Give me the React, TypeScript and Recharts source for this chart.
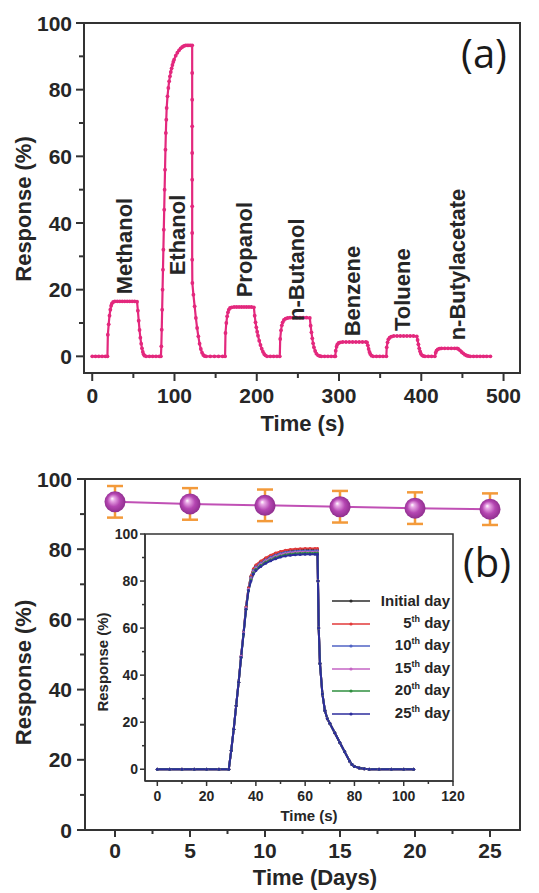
import React from 'react';
import {
  LineChart,
  Line,
  XAxis,
  YAxis,
  ReferenceArea,
  ReferenceDot,
  ComposedChart,
  ErrorBar,
  Legend,
} from 'recharts';

const FONT = '"Liberation Sans", Arial, sans-serif';
const INK = '#262626';
const AXIS = '#333333';
const PINK = '#e3287d';
const ORANGE = '#f39a3a';
const LINEB = '#c050b5';

// ---------------- Panel (a): response vs time for several gases ----------------
const pulseA: [number, number][] = [
  [0, 0], [4, 0], [8, 0], [12, 0], [16, 0], [18.5, 0],
  [19, 6.5], [20, 9.6], [21, 12.2], [22, 14], [23, 15.2], [24, 15.9], [25.5, 16.3], [27.5, 16.5],
  [30.5, 16.5], [33.5, 16.5], [36.5, 16.5], [39.5, 16.5], [42.5, 16.5], [45.5, 16.5], [48.5, 16.5], [51.5, 16.5], [54.5, 16.4],
  [55.5, 13.7], [56.5, 10.7], [57.5, 7.9], [58.5, 5.6], [59.5, 3.8], [60.5, 2.4], [61.5, 1.3], [62.5, 0.6], [63.5, 0.2],
  [65.5, 0], [69.5, 0], [73.5, 0], [77.5, 0], [81.5, 0], [83.5, 0],
  [84, 3], [84.5, 8], [85, 14], [85.5, 20], [86, 26], [86.5, 32], [87, 38], [87.5, 44], [88, 50], [88.5, 56],
  [89, 62], [89.5, 67], [90, 71], [90.5, 74.5], [91.5, 78], [92.5, 80.5], [93.5, 82.5], [94.5, 84], [95.5, 85.3],
  [96.5, 86.4], [97.5, 87.4], [98.5, 88.3], [99.5, 89], [101.5, 90.2], [103.5, 91.1], [105.5, 91.8], [107.5, 92.4],
  [109.5, 92.8], [111.5, 93.1], [113.5, 93.3], [115.5, 93.3], [117.5, 93.3], [119.5, 93.3], [121.5, 93.3],
  [121.5, 85], [121.5, 77], [121.5, 69], [121.5, 61], [121.5, 53], [121.5, 45], [121.5, 37], [121.5, 29], [121.7, 22],
  [123, 18.5], [124.5, 15], [126, 11.5], [127.5, 8.5], [129, 6], [130.5, 3.8], [132, 2.2], [133.5, 1.1],
  [135, 0.4], [136.5, 0.1], [138.5, 0], [143.5, 0], [148.5, 0], [153.5, 0], [158.5, 0], [161.5, 0],
  [162, 7], [163, 10], [164, 12], [165, 13.2], [166, 14], [167.5, 14.5], [169.5, 14.7], [172.5, 14.8],
  [175.5, 14.8], [178.5, 14.8], [181.5, 14.8], [184.5, 14.8], [187.5, 14.8], [190.5, 14.8], [193.5, 14.8], [196.5, 14.7],
  [197.5, 12.2], [198.5, 10.2], [199.5, 8.7], [200.5, 7.4], [201.5, 6.2], [203, 4.7], [204.5, 3.4], [206, 2.3], [207.5, 1.4],
  [209, 0.7], [210.5, 0.3], [212.5, 0], [216.5, 0], [220.5, 0], [224.5, 0], [228, 0],
  [228.5, 5.2], [229.5, 7.8], [230.5, 9.3], [231.5, 10.2], [233, 10.9], [235, 11.3], [237.5, 11.5], [240.5, 11.6], [244.5, 11.6],
  [248.5, 11.6], [252.5, 11.6], [256.5, 11.6], [260.5, 11.6], [264.5, 11.5],
  [265.5, 9.2], [266.5, 7.2], [267.5, 5.4], [268.5, 3.9], [269.5, 2.7], [271, 1.6], [272.5, 0.8], [274.5, 0.3], [276.5, 0.1],
  [278.5, 0], [282.5, 0], [286.5, 0], [290.5, 0], [294.5, 0], [295.5, 0],
  [296, 1.7], [297, 2.9], [298, 3.6], [299.5, 4], [301.5, 4.2], [304.5, 4.3], [308.5, 4.3], [312.5, 4.3], [316.5, 4.3],
  [320.5, 4.3], [324.5, 4.3], [328.5, 4.3], [332.5, 4.3], [334, 4.2],
  [335, 3.3], [336, 2.2], [337, 1.3], [338, 0.7], [339.5, 0.2], [341.5, 0], [345.5, 0], [349.5, 0], [353.5, 0], [357.5, 0],
  [358, 2.7], [359, 4.2], [360, 5.1], [361.5, 5.6], [363.5, 5.9], [366.5, 6.1], [370.5, 6.1], [374.5, 6.1], [378.5, 6.1],
  [382.5, 6.1], [386.5, 6.1], [390.5, 6.1], [394.5, 6],
  [395.5, 4.9], [396.5, 3.6], [397.5, 2.4], [398.5, 1.5], [399.5, 0.8], [401, 0.3], [402.5, 0.1], [404.5, 0], [408.5, 0], [412.5, 0], [416.5, 0],
  [417.5, 1.1], [418.5, 1.7], [420, 2.1], [422, 2.3], [424.5, 2.4], [428.5, 2.4], [432.5, 2.4], [436.5, 2.4], [440.5, 2.4], [443.5, 2.4],
  [445, 2.2], [447, 1.8], [449, 1.3], [451, 0.9], [453, 0.5], [455, 0.25], [457, 0.1], [459.5, 0],
  [463.5, 0], [467.5, 0], [471.5, 0], [475.5, 0], [479.5, 0], [484, 0],
];

const gasLabels = [
  { name: 'Methanol', t: 38.7, v: 18.6 },
  { name: 'Ethanol', t: 103.7, v: 24.3 },
  { name: 'Propanol', t: 185, v: 17.7 },
  { name: 'n-Butanol', t: 248.9, v: 10.6 },
  { name: 'Benzene', t: 315.8, v: 6 },
  { name: 'Toluene', t: 377.2, v: 7.6 },
  { name: 'n-Butylacetate', t: 443.5, v: 4.8 },
];

const ticksAX = [0, 50, 100, 150, 200, 250, 300, 350, 400, 450, 500];
const ticksAY = [0, 10, 20, 30, 40, 50, 60, 70, 80, 90, 100];

// ---------------- Panel (b): stability over days ----------------
const days = [0, 5, 10, 15, 20, 25];
const dayResponse = [93.5, 92.9, 92.5, 92.1, 91.7, 91.4];
const dayError = [4.5, 4.5, 4.5, 4.5, 4.5, 4.5];
const ticksBX = [0, 2.5, 5, 7.5, 10, 12.5, 15, 17.5, 20, 22.5, 25];
const ticksBY = [0, 10, 20, 30, 40, 50, 60, 70, 80, 90, 100];

// ---------------- Inset: transient curves on different days ----------------
const tInset = [0, 5, 10, 15, 20, 25, 29, 30, 31, 32, 33, 34, 35, 36, 37, 38, 39, 40, 42, 44, 46, 48, 50, 52, 54, 56, 58, 60,
  62, 64, 65, 65.2, 65.5, 66, 67, 68, 69, 70, 72, 74, 76, 78, 79, 80, 82, 84, 86, 90, 95, 100, 104];
const initialDay = [0, 0, 0, 0, 0, 0, 0, 8, 17, 27, 37, 48, 58, 69, 77, 82, 85, 86.5, 88.2, 89.6, 90.7, 91.6, 92.3, 92.8, 93.1,
  93.3, 93.4, 93.5, 93.5, 93.5, 93.5, 80, 60, 45, 32, 25, 21.5, 19.5, 15.5, 11.5, 7.5, 3.5, 2, 1.2, 0.5, 0.2, 0, 0, 0, 0, 0];
const day5 = [0, 0, 0, 0, 0, 0, 0, 8, 17, 27, 37, 48, 58, 69, 77, 82, 85.2, 86.8, 88.5, 89.9, 91, 91.9, 92.6, 93.1, 93.4,
  93.6, 93.7, 93.8, 93.8, 93.8, 93.8, 80, 60, 45, 32, 25, 21.5, 19.5, 15.5, 11.5, 7.5, 3.5, 2, 1.2, 0.5, 0.2, 0, 0, 0, 0, 0];
const day10 = [0, 0, 0, 0, 0, 0, 0, 8, 17, 27, 37, 48, 58, 68.5, 76.5, 81.5, 84.5, 86, 87.7, 89, 90.1, 91, 91.7, 92.2, 92.5,
  92.7, 92.8, 92.9, 92.9, 92.9, 92.9, 80, 60, 45, 32, 25, 21.5, 19.5, 15.5, 11.5, 7.5, 3.5, 2, 1.2, 0.5, 0.2, 0, 0, 0, 0, 0];
const day15 = [0, 0, 0, 0, 0, 0, 0, 8, 17, 27, 37, 48, 58, 68.5, 76.5, 81, 84, 85.5, 87.2, 88.6, 89.6, 90.5, 91.2, 91.7, 92,
  92.2, 92.3, 92.4, 92.4, 92.4, 92.4, 80, 60, 45, 32, 25, 21.5, 19.5, 15.5, 11.5, 7.5, 3.5, 2, 1.2, 0.5, 0.2, 0, 0, 0, 0, 0];
const day20 = [0, 0, 0, 0, 0, 0, 0, 8, 17, 27, 37, 47.5, 57.5, 68, 76, 80.5, 83.5, 85, 86.7, 88.1, 89.1, 90, 90.7, 91.2, 91.5,
  91.7, 91.8, 91.9, 91.9, 91.9, 91.9, 80, 60, 45, 32, 25, 21.5, 19.5, 15.5, 11.5, 7.5, 3.5, 2, 1.2, 0.5, 0.2, 0, 0, 0, 0, 0];
const day25 = [0, 0, 0, 0, 0, 0, 0, 8, 17, 27, 37, 47.5, 57.5, 68, 76, 80, 83, 84.5, 86.2, 87.6, 88.6, 89.5, 90.2, 90.7, 91,
  91.2, 91.3, 91.4, 91.4, 91.4, 91.4, 80, 60, 45, 32, 25, 21.5, 19.5, 15.5, 11.5, 7.5, 3.5, 2, 1.2, 0.5, 0.2, 0, 0, 0, 0, 0];
const ticksInX = [0, 10, 20, 30, 40, 50, 60, 70, 80, 90, 100, 110, 120];
const ticksInY = [0, 10, 20, 30, 40, 50, 60, 70, 80, 90, 100];

const insetSeries = [
  { key: 'initial', values: initialDay, color: '#2b2b2b', num: '', label: 'Initial day' },
  { key: 'd5', values: day5, color: '#e23a3a', num: '5', label: '5th day' },
  { key: 'd10', values: day10, color: '#5063c4', num: '10', label: '10th day' },
  { key: 'd15', values: day15, color: '#c565c5', num: '15', label: '15th day' },
  { key: 'd20', values: day20, color: '#2f8f3f', num: '20', label: '20th day' },
  { key: 'd25', values: day25, color: '#2c2c9c', num: '25', label: '25th day' },
];

// ---------------- built tables ----------------
const dataA = pulseA.map(([t, r]) => ({ t, r }));
const dataB = days.map((d, i) => ({ day: d, response: dayResponse[i], err: dayError[i] }));
const dataIn = tInset.map((t, i) => {
  const row: Record<string, number> = { t };
  insetSeries.forEach((s) => {
    row[s.key] = s.values[i];
  });
  return row;
});

// ---------------- helpers ----------------
type TickOpts = {
  side: 'bottom' | 'left';
  majorEvery: number;
  majorLen: number;
  minorLen: number;
  gap: number;
  fontSize: number;
  sw: number;
};
const makeTick = (o: TickOpts) => (props: any) => {
  const { x, y, payload } = props;
  const v = payload.value as number;
  const isMajor = Math.abs(v / o.majorEvery - Math.round(v / o.majorEvery)) < 1e-6;
  const len = isMajor ? o.majorLen : o.minorLen;
  const txt = {
    fontSize: o.fontSize,
    fontWeight: 700 as const,
    fontFamily: FONT,
    fill: INK,
  };
  if (o.side === 'bottom') {
    return (
      <g>
        <line x1={x} y1={y} x2={x} y2={y + len} stroke={AXIS} strokeWidth={o.sw} />
        {isMajor && (
          <text x={x} y={y + o.gap + o.fontSize * 0.72} textAnchor="middle" {...txt}>
            {v}
          </text>
        )}
      </g>
    );
  }
  return (
    <g>
      <line x1={x} y1={y} x2={x - len} y2={y} stroke={AXIS} strokeWidth={o.sw} />
      {isMajor && (
        <text x={x - o.gap} y={y + o.fontSize * 0.36} textAnchor="end" {...txt}>
          {v}
        </text>
      )}
    </g>
  );
};

const yTitle = (text: string, cx: number, shift: number, fs: number) => ({
  content: (p: any) => {
    const vb = p.viewBox;
    const cy = vb.y + vb.height / 2 + shift;
    return (
      <text
        x={cx}
        y={cy}
        transform={`rotate(-90 ${cx} ${cy})`}
        textAnchor="middle"
        dominantBaseline="central"
        fontSize={fs}
        fontWeight={700}
        fontFamily={FONT}
        fill={INK}
      >
        {text}
      </text>
    );
  },
});

const xTitle = (text: string, dx: number, baseline: number, fs: number) => ({
  content: (p: any) => {
    const vb = p.viewBox;
    return (
      <text
        x={vb.x + vb.width / 2 + dx}
        y={vb.y + baseline}
        textAnchor="middle"
        fontSize={fs}
        fontWeight={700}
        fontFamily={FONT}
        fill={INK}
      >
        {text}
      </text>
    );
  },
});

const gasLabel = (name: string) => ({
  content: (p: any) => {
    const vb = p.viewBox;
    const cx = vb.x + (vb.width || 0) / 2;
    const cy = vb.y + (vb.height || 0) / 2;
    return (
      <text
        x={cx}
        y={cy}
        transform={`rotate(-90 ${cx} ${cy})`}
        textAnchor="start"
        dominantBaseline="central"
        fontSize={22}
        fontWeight={700}
        fontFamily={FONT}
        fill={INK}
      >
        {name}
      </text>
    );
  },
});

const Sphere = (p: any) => {
  if (p.cx == null || p.cy == null) return <g key={`s${p.index}`} />;
  const id = `sphere-grad-${p.index}`;
  return (
    <g key={`s${p.index}`}>
      <defs>
        <radialGradient id={id} cx="50%" cy="50%" r="55%" fx="36%" fy="34%">
          <stop offset="0%" stopColor="#ffffff" />
          <stop offset="18%" stopColor="#e9a9e6" />
          <stop offset="55%" stopColor="#b546b2" />
          <stop offset="100%" stopColor="#882a88" />
        </radialGradient>
      </defs>
      <circle cx={p.cx} cy={p.cy} r={10.5} fill={`url(#${id})`} />
    </g>
  );
};

const InsetLegend = (props: any) => {
  const payload: any[] = props.payload || [];
  return (
    <div style={{ width: 118, fontFamily: FONT, fontWeight: 700, fontSize: 15, color: INK }}>
      {insetSeries.map((meta) => {
        const entry = payload.find((e: any) => e.dataKey === meta.key);
        const color = entry ? entry.color : meta.color;
        return (
          <div key={meta.key} style={{ display: 'flex', alignItems: 'center', height: 22.5, lineHeight: '22.5px' }}>
            <svg width={38} height={8} style={{ flex: 'none' }}>
              <line x1={0} y1={4} x2={38} y2={4} stroke={color} strokeWidth={1.5} />
              <circle cx={19} cy={4} r={1.6} fill={color} />
            </svg>
            <span style={{ flex: 1, textAlign: 'right', whiteSpace: 'nowrap' }}>
              {meta.num ? (
                <>
                  {meta.num}
                  <span style={{ fontSize: 9, position: 'relative', top: -6 }}>th</span> day
                </>
              ) : (
                meta.label
              )}
            </span>
          </div>
        );
      })}
    </div>
  );
};

const tickAX = makeTick({ side: 'bottom', majorEvery: 100, majorLen: 8, minorLen: 5, gap: 15, fontSize: 21, sw: 2 });
const tickAY = makeTick({ side: 'left', majorEvery: 20, majorLen: 8, minorLen: 5, gap: 12, fontSize: 21, sw: 2 });
const tickBX = makeTick({ side: 'bottom', majorEvery: 5, majorLen: 7, minorLen: 4, gap: 13, fontSize: 21, sw: 2 });
const tickBY = makeTick({ side: 'left', majorEvery: 20, majorLen: 8, minorLen: 5, gap: 13, fontSize: 21, sw: 2 });
const tickInX = makeTick({ side: 'bottom', majorEvery: 20, majorLen: 5, minorLen: 3, gap: 10, fontSize: 14, sw: 1.5 });
const tickInY = makeTick({ side: 'left', majorEvery: 20, majorLen: 5, minorLen: 3, gap: 7, fontSize: 14, sw: 1.5 });

const axisLine = { stroke: AXIS, strokeWidth: 2 };
const axisLineThin = { stroke: AXIS, strokeWidth: 1.5 };

export default function App() {
  return (
    <div style={{ position: 'absolute', left: 0, top: 0, width: 539, height: 893, background: '#ffffff', overflow: 'hidden' }}>
      {/* Panel (a) */}
      <div style={{ position: 'absolute', left: 0, top: 0 }}>
        <LineChart width={539} height={440} data={dataA} margin={{ top: 23, right: 19, left: 0, bottom: 0 }}>
          <XAxis
            dataKey="t"
            type="number"
            domain={[-10, 520]}
            ticks={ticksAX}
            interval={0}
            tickSize={0}
            tickMargin={0}
            tickLine={false}
            tick={tickAX}
            axisLine={axisLine}
            height={67}
            allowDataOverflow
            label={xTitle('Time (s)', 0.5, 58, 22)}
          />
          <YAxis
            type="number"
            domain={[-5, 100]}
            ticks={ticksAY}
            interval={0}
            tickSize={0}
            tickMargin={0}
            tickLine={false}
            tick={tickAY}
            axisLine={axisLine}
            width={84}
            allowDataOverflow
            label={yTitle('Response (%)', 23, 11, 22)}
          />
          <ReferenceArea x1={-10} x2={520} y1={-5} y2={100} fill="none" stroke={AXIS} strokeWidth={2} />
          <Line
            dataKey="r"
            type="linear"
            stroke={PINK}
            strokeWidth={2.2}
            dot={{ r: 1.9, fill: PINK, stroke: PINK, strokeWidth: 0 }}
            isAnimationActive={false}
          />
          {gasLabels.map((g) => (
            <ReferenceDot key={g.name} x={g.t} y={g.v} r={1} fill="none" stroke="none" label={gasLabel(g.name)} />
          ))}
        </LineChart>
      </div>

      {/* Panel (b) main */}
      <div style={{ position: 'absolute', left: 0, top: 440 }}>
        <ComposedChart width={539} height={453} data={dataB} margin={{ top: 39, right: 19, left: 0, bottom: 0 }}>
          <XAxis
            dataKey="day"
            type="number"
            domain={[-2, 27]}
            ticks={ticksBX}
            interval={0}
            tickSize={0}
            tickMargin={0}
            tickLine={false}
            tick={tickBX}
            axisLine={axisLine}
            height={63}
            allowDataOverflow
            label={xTitle('Time (Days)', 12.5, 55, 22)}
          />
          <YAxis
            type="number"
            domain={[0, 100]}
            ticks={ticksBY}
            interval={0}
            tickSize={0}
            tickMargin={0}
            tickLine={false}
            tick={tickBY}
            axisLine={axisLine}
            width={85}
            allowDataOverflow
            label={yTitle('Response (%)', 23, 18, 22)}
          />
          <ReferenceArea x1={-2} x2={27} y1={0} y2={100} fill="none" stroke={AXIS} strokeWidth={2} />
          <Line dataKey="response" type="linear" stroke={LINEB} strokeWidth={2} dot={Sphere} isAnimationActive={false}>
            <ErrorBar dataKey="err" direction="y" width={8} stroke={ORANGE} strokeWidth={2.5} />
          </Line>
        </ComposedChart>
      </div>

      {/* Inset */}
      <div style={{ position: 'absolute', left: 80, top: 520 }}>
        <LineChart width={390} height={310} data={dataIn} margin={{ top: 14, right: 17, left: 0, bottom: 0 }}>
          <XAxis
            dataKey="t"
            type="number"
            domain={[-5, 120]}
            ticks={ticksInX}
            interval={0}
            tickSize={0}
            tickMargin={0}
            tickLine={false}
            tick={tickInX}
            axisLine={axisLineThin}
            height={49}
            allowDataOverflow
            label={xTitle('Time (s)', 10, 40, 15)}
          />
          <YAxis
            type="number"
            domain={[-5, 100]}
            ticks={ticksInY}
            interval={0}
            tickSize={0}
            tickMargin={0}
            tickLine={false}
            tick={tickInY}
            axisLine={axisLineThin}
            width={65}
            allowDataOverflow
            label={yTitle('Response (%)', 22, 4.5, 15)}
          />
          <ReferenceArea x1={-5} x2={120} y1={-5} y2={100} fill="none" stroke={AXIS} strokeWidth={1.5} />
          {insetSeries.map((s) => (
            <Line
              key={s.key}
              dataKey={s.key}
              name={s.label}
              type="linear"
              stroke={s.color}
              strokeWidth={2}
              dot={{ r: 1.5, fill: s.color, stroke: s.color, strokeWidth: 0 }}
              isAnimationActive={false}
            />
          ))}
          <Legend
            layout="vertical"
            align="center"
            verticalAlign="middle"
            content={InsetLegend}
            wrapperStyle={{ left: 252, top: 70, width: 118 }}
          />
        </LineChart>
      </div>

      {/* Panel letters */}
      <svg
        width={539}
        height={893}
        style={{ position: 'absolute', left: 0, top: 0, pointerEvents: 'none' }}
      >
        <text x={484} y={68} textAnchor="middle" fontSize={40} fontFamily='"Open Sans", sans-serif' fill="#1a1a1a">
          (a)
        </text>
        <text x={487} y={577} textAnchor="middle" fontSize={40} fontFamily='"Open Sans", sans-serif' fill="#1a1a1a">
          (b)
        </text>
      </svg>
    </div>
  );
}
